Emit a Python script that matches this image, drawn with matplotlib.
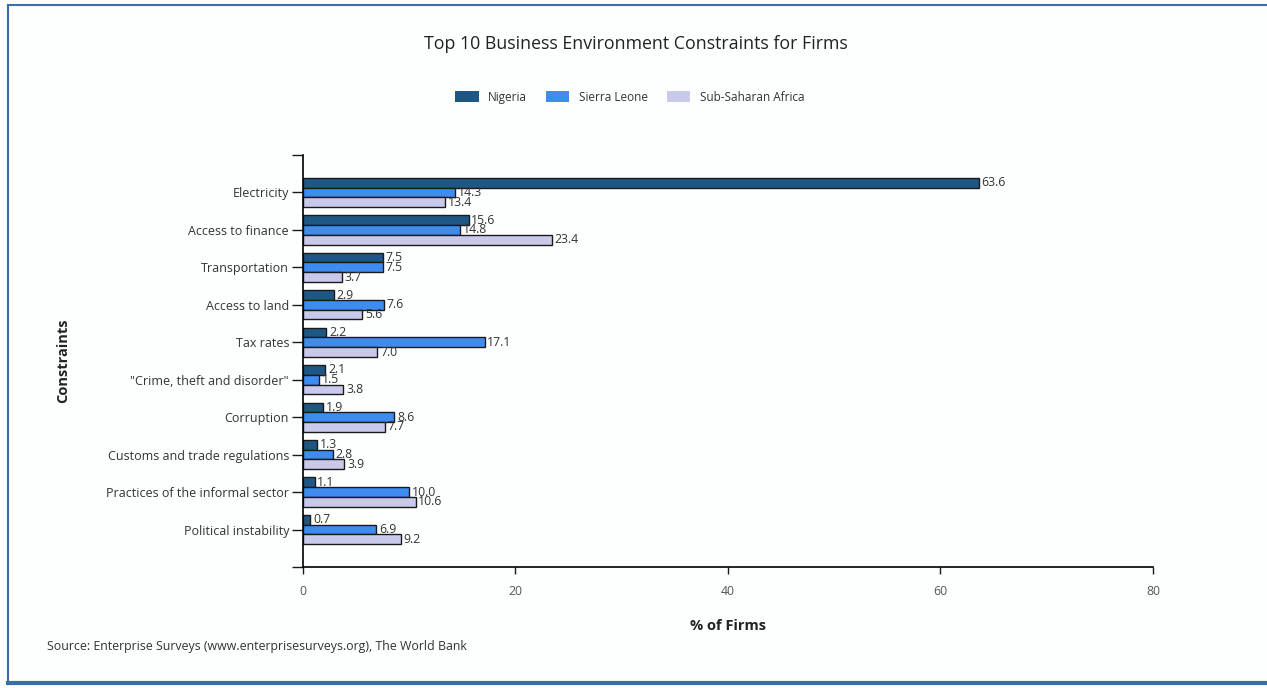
import matplotlib.pyplot as plt
import numpy as np
from matplotlib.lines import Line2D
from matplotlib.patches import Patch

plt.rcParams['font.family'] = ['Open Sans', 'DejaVu Sans']

constraints = ['Electricity', 'Access to finance', 'Transportation', 'Access to land',
               'Tax rates', '"Crime, theft and disorder"', 'Corruption',
               'Customs and trade regulations', 'Practices of the informal sector',
               'Political instability']
nigeria = [63.6, 15.6, 7.5, 2.9, 2.2, 2.1, 1.9, 1.3, 1.1, 0.7]
sierra_leone = [14.3, 14.8, 7.5, 7.6, 17.1, 1.5, 8.6, 2.8, 10.0, 6.9]
ssa = [13.4, 23.4, 3.7, 5.6, 7.0, 3.8, 7.7, 3.9, 10.6, 9.2]
series_names = ['Nigeria', 'Sierra Leone', 'Sub-Saharan Africa']
colors = ['#1f5784', '#3f8cf0', '#c9c9ec']

fig = plt.figure(figsize=(12.67, 6.88), dpi=100)
fig.patch.set_facecolor('#fdfefe')
ax = fig.add_axes([0.2391, 0.1759, 0.6709, 0.5988])
ax.set_facecolor('#fdfefe')

y = np.arange(len(constraints))
h = 0.26
for i, (vals, c) in enumerate(zip([nigeria, sierra_leone, ssa], colors)):
    pos = y + (i - 1) * h
    ax.barh(pos, vals, height=h, color=c, edgecolor='#1a1a1a', linewidth=1.0)
    for p, v in zip(pos, vals):
        ax.text(v + 0.25, p, f'{v:.1f}', va='center', ha='left', fontsize=8.8, color='#333333')

ax.set_xlim(0, 80)
ax.set_ylim(len(constraints), -1)
ax.set_xticks([0, 20, 40, 60, 80])
ax.set_yticks(np.arange(-1, len(constraints) + 1))
ax.set_yticklabels([''] + constraints + [''])
ax.tick_params(axis='y', length=8, width=1, labelsize=9, colors='#1a1a1a', labelcolor='#333333', pad=2)
ax.tick_params(axis='x', length=5, width=1, labelsize=8.8, colors='#1a1a1a', labelcolor='#555555', pad=8)
for s in ['top', 'right']:
    ax.spines[s].set_visible(False)
ax.spines['left'].set_linewidth(1.2)
ax.spines['bottom'].set_linewidth(1.2)

ax.set_xlabel('% of Firms', fontsize=10.5, fontweight='bold', color='#222222')
ax.xaxis.set_label_coords(0.5, -0.127)
ax.set_ylabel('Constraints', fontsize=10.5, fontweight='bold', color='#222222')
ax.yaxis.set_label_coords(-0.274, 0.5)

fig.text(0.502, 0.936, 'Top 10 Business Environment Constraints for Firms',
         ha='center', va='center', fontsize=12.8, color='#222222')

handles = [Patch(facecolor=c, edgecolor='none') for c in colors]
fig.legend(handles, series_names, loc='center', bbox_to_anchor=(0.497, 0.859), ncol=3,
           frameon=False, fontsize=8.5, handlelength=2.0, handleheight=1.0,
           columnspacing=1.6, handletextpad=0.8, labelcolor='#333333')

fig.text(0.037, 0.06, 'Source: Enterprise Surveys (www.enterprisesurveys.org), The World Bank',
         ha='left', va='center', fontsize=8.9, color='#333333')

# panel frame
frame_color = '#3b6ea8'
fig.add_artist(Line2D([8 / 1267, 8 / 1267], [1 - 5 / 688, 1 - 683 / 688], color=frame_color, lw=1.5))
fig.add_artist(Line2D([8 / 1267, 1], [1 - 5 / 688, 1 - 5 / 688], color=frame_color, lw=1.5))
fig.add_artist(Line2D([8 / 1267, 1], [1 - 683 / 688, 1 - 683 / 688], color=frame_color, lw=3))

fig.savefig('out.png', dpi=100, facecolor=fig.get_facecolor())
